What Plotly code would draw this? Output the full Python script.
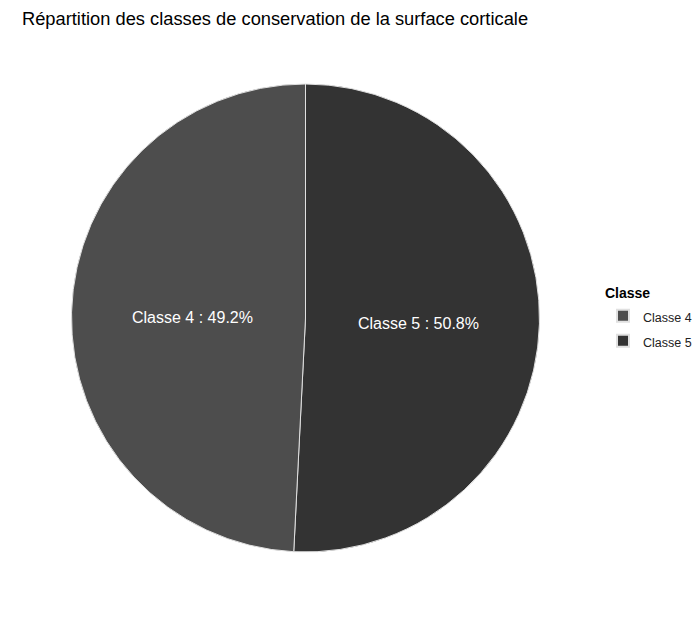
import numpy as np
import plotly.graph_objects as go

classes = ["Classe 4", "Classe 5"]
percent = [49.2, 50.8]
colors = ["#4d4d4d", "#333333"]

W, H = 697, 630
ml, mr, mt, mb = 71, 157, 84, 78

# slices drawn clockwise from 12 o'clock in reverse order so that Classe 4 sits on the left
order = [1, 0]
fig = go.Figure(go.Pie(
    labels=[f"<span style='font-size:12.5px'>{classes[i]}</span>" for i in order],
    values=[percent[i] for i in order],
    sort=False,
    direction="clockwise",
    rotation=0,
    marker=dict(colors=[colors[i] for i in order], line=dict(color="#e0e0e0", width=1)),
    textinfo="none",
    hoverinfo="percent",
    domain=dict(x=[0, 1], y=[0, 1]),
))

# label positions from data: midpoint angle of each slice (Classe 4 counterclockwise from top), half radius
annotations = []
cum = 0.0
total = sum(percent)
for lab, v in zip(classes, percent):
    mid = (cum + v / 2) / total * 2 * np.pi
    cum += v
    dx = -np.sin(mid)
    dy = np.cos(mid)
    annotations.append(dict(
        x=0.5 + 0.24 * dx, y=0.5 + 0.24 * dy - 0.006,
        xref="paper", yref="paper",
        text=f"{lab} : {v}%", showarrow=False,
        font=dict(color="white", size=16, family="Liberation Sans, Arial"),
        xanchor="center", yanchor="middle",
    ))

fig.update_layout(
    width=W, height=H,
    margin=dict(l=ml, r=mr, t=mt, b=mb, autoexpand=False),
    paper_bgcolor="white", plot_bgcolor="white",
    title=dict(
        text="Répartition des classes de conservation de la surface corticale",
        x=22 / W, xanchor="left", xref="container",
        y=1 - 19 / H, yanchor="middle", yref="container",
        font=dict(size=18.3, color="black", family="Liberation Sans, Arial"),
    ),
    legend=dict(
        title=dict(text="<b>Classe</b>", font=dict(size=14, color="black")),
        xref="container", yref="container",
        x=603 / W, xanchor="left", y=1 - 280 / H, yanchor="top",
        font=dict(size=17, color="#222222", family="Liberation Sans, Arial"),
        traceorder="reversed",
        itemsizing="constant",
    ),
    annotations=annotations,
    font=dict(family="Liberation Sans, Arial"),
)

fig.write_html("out.html")
